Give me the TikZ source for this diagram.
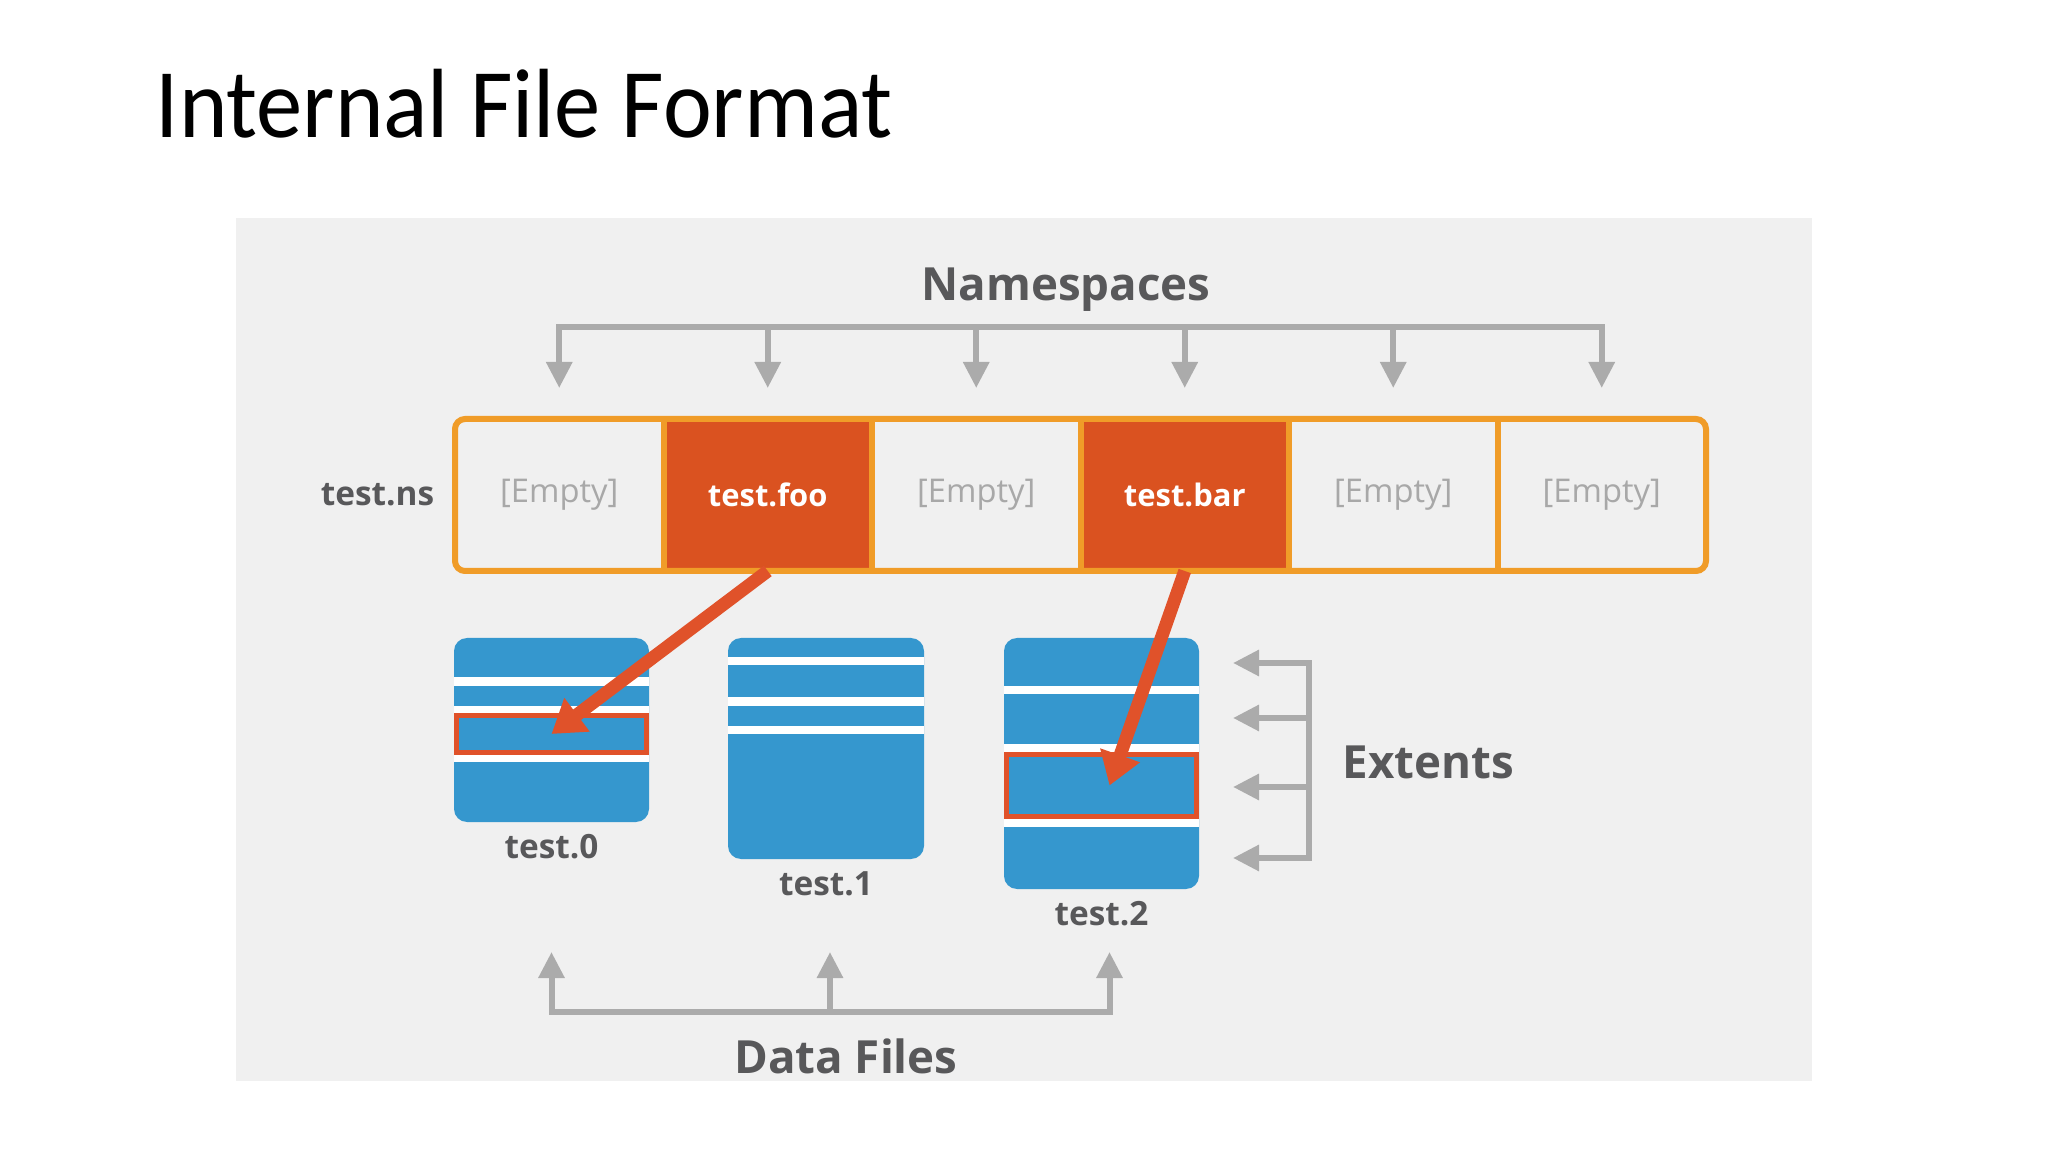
\documentclass[tikz,border=0pt]{standalone}
\usepackage{fontspec}
\usepackage{xcolor}
\usepackage{tikz}
\usetikzlibrary{arrows.meta, positioning, calc}

\newfontfamily\titlefont{Carlito}[FakeStretch=0.94]
\newfontfamily\diafont{Open Sans}

\definecolor{panelgray}{HTML}{F0F0F0}
\definecolor{nsorange}{HTML}{F09C28}
\definecolor{nsred}{HTML}{DA5220}
\definecolor{ptrred}{HTML}{E0522A}
\definecolor{fileblue}{HTML}{3597CE}
\definecolor{arrowgray}{HTML}{ABABAB}
\definecolor{textdark}{HTML}{58585A}
\definecolor{emptygray}{HTML}{A8A8A8}

\begin{document}
\begin{tikzpicture}[
    title/.style={font=\titlefont\fontsize{28}{32}\selectfont, text=black, inner sep=0pt},
    header/.style={font=\diafont\bfseries\fontsize{13}{16}\selectfont, text=textdark, inner sep=0pt},
    flabel/.style={font=\diafont\bfseries\fontsize{9.5}{11}\selectfont, text=textdark, inner sep=0pt},
    nscell/.style={rectangle, minimum width=2.085cm, minimum height=1.52cm, inner sep=0pt, outer sep=0pt, font=\diafont\fontsize{9.3}{11}\selectfont, text=emptygray},
    nsused/.style={nscell, fill=nsred, text=white, font=\diafont\bfseries\fontsize{8.8}{11}\selectfont},
    nsline/.style={draw=nsorange, line width=0.06cm},
    dfile/.style={rectangle, rounded corners=0.13cm, fill=fileblue, inner sep=0pt, outer sep=0pt},
    band/.style={rectangle, draw=ptrred, line width=0.05cm, inner sep=0pt, outer sep=0pt},
    garr/.style={-{Triangle[width=0.25cm,length=0.26cm]}, line width=0.06cm, draw=arrowgray},
    gbrk/.style={garr, {Triangle[width=0.25cm,length=0.26cm]}-{Triangle[width=0.25cm,length=0.26cm]}},
    redarr/.style={-{Triangle[width=0.40cm,length=0.32cm]}, line width=0.13cm, draw=ptrred},
]
    \useasboundingbox (0,0) rectangle (20.48,-11.52);

    % Background
    \fill[white] (0,0) rectangle (20.48,-11.52);
    \fill[panelgray] (2.36,-2.18) rectangle (18.12,-10.81);

    % Title
    \node[title, anchor=base west] (title) at (1.55,-1.38) {Internal File Format};

    % Namespace row
    \node[nscell] (ns1) at (5.5925,-4.95) {[Empty]};
    \node[nsused, right=0pt of ns1] (ns2) {test.foo};
    \node[nscell, right=0pt of ns2] (ns3) {[Empty]};
    \node[nsused, right=0pt of ns3] (ns4) {test.bar};
    \node[nscell, right=0pt of ns4] (ns5) {[Empty]};
    \node[nscell, right=0pt of ns5] (ns6) {[Empty]};
    \node[flabel, left=0.2cm of ns1] (nsname) {test.ns};

    \draw[nsline] (ns1.north east) -- (ns1.south east);
    \draw[nsline] (ns2.north east) -- (ns2.south east);
    \draw[nsline] (ns3.north east) -- (ns3.south east);
    \draw[nsline] (ns4.north east) -- (ns4.south east);
    \draw[nsline] (ns5.north east) -- (ns5.south east);
    \draw[nsline, rounded corners=0.1cm] (ns1.north west) rectangle (ns6.south east);

    % Namespaces bracket
    \node[header] (nshead) at (10.66,-2.90) {Namespaces};
    \coordinate (nsbar) at (0,-3.27);
    \draw[gbrk] ([yshift=0.31cm]ns1.north) -- (nsbar -| ns1.north) -- (nsbar -| ns6.north) -- ([yshift=0.31cm]ns6.north);
    \draw[garr] (nsbar -| ns2.north) -- ([yshift=0.31cm]ns2.north);
    \draw[garr] (nsbar -| ns3.north) -- ([yshift=0.31cm]ns3.north);
    \draw[garr] (nsbar -| ns4.north) -- ([yshift=0.31cm]ns4.north);
    \draw[garr] (nsbar -| ns5.north) -- ([yshift=0.31cm]ns5.north);

    % Data files
    \node[dfile, minimum width=1.95cm, minimum height=1.84cm] (f0) at (5.515,-7.30) {};
    \node[dfile, minimum width=1.96cm, minimum height=2.21cm, anchor=north west] (f1) at ([xshift=0.79cm]f0.north east) {};
    \node[dfile, minimum width=1.95cm, minimum height=2.51cm, anchor=north west] (f2) at ([xshift=0.80cm]f1.north east) {};

    % Extent gaps
    \fill[white] ($(f0.north west)+(0,-0.39)$) rectangle ($(f0.north east)+(0,-0.48)$);
    \fill[white] ($(f0.north west)+(0,-0.68)$) rectangle ($(f0.north east)+(0,-0.75)$);
    \fill[white] ($(f0.north west)+(0,-1.17)$) rectangle ($(f0.north east)+(0,-1.24)$);
    \fill[white] ($(f1.north west)+(0,-0.19)$) rectangle ($(f1.north east)+(0,-0.27)$);
    \fill[white] ($(f1.north west)+(0,-0.59)$) rectangle ($(f1.north east)+(0,-0.68)$);
    \fill[white] ($(f1.north west)+(0,-0.88)$) rectangle ($(f1.north east)+(0,-0.96)$);
    \fill[white] ($(f2.north west)+(0,-0.48)$) rectangle ($(f2.north east)+(0,-0.56)$);
    \fill[white] ($(f2.north west)+(0,-1.06)$) rectangle ($(f2.north east)+(0,-1.14)$);
    \fill[white] ($(f2.north west)+(0,-1.81)$) rectangle ($(f2.north east)+(0,-1.89)$);

    % Referenced extents
    \node[band, minimum width=1.90cm, minimum height=0.37cm, anchor=north] (x0) at ([yshift=-0.775cm]f0.north) {};
    \node[band, minimum width=1.90cm, minimum height=0.62cm, anchor=north] (x2) at ([yshift=-1.165cm]f2.north) {};

    % File names
    \node[flabel, below=0.12cm of f0] (l0) {test.0};
    \node[flabel, below=0.12cm of f1] (l1) {test.1};
    \node[flabel, below=0.12cm of f2] (l2) {test.2};

    % Pointers from namespaces to extents
    \draw[redarr] (ns2.south) -- (x0.center);
    \draw[redarr] (ns4.south) -- ([xshift=0.08cm]x2.center);

    % Extents bracket
    \coordinate (et1) at ([xshift=0.34cm, yshift=-0.25cm]f2.north east);
    \coordinate (et2) at ([xshift=0.34cm, yshift=-0.80cm]f2.north east);
    \coordinate (et3) at ([xshift=0.34cm, yshift=-1.49cm]f2.north east);
    \coordinate (et4) at ([xshift=0.34cm, yshift=-2.20cm]f2.north east);
    \coordinate (eb1) at ([xshift=0.76cm]et1);
    \coordinate (eb2) at ([xshift=0.76cm]et2);
    \coordinate (eb3) at ([xshift=0.76cm]et3);
    \coordinate (eb4) at ([xshift=0.76cm]et4);
    \draw[gbrk] (et1) -- (eb1) -- (eb4) -- (et4);
    \draw[garr] (eb2) -- (et2);
    \draw[garr] (eb3) -- (et3);
    \node[header, anchor=west] (exthead) at (13.42,-7.62) {Extents};

    % Data files bracket
    \coordinate (dtip) at (0,-9.52);
    \coordinate (dbar) at (0,-10.12);
    \coordinate (d1x) at ([xshift=0.04cm]f1.center);
    \coordinate (d2x) at ([xshift=0.08cm]f2.center);
    \draw[gbrk] (dtip -| f0.center) -- (dbar -| f0.center) -- (dbar -| d2x) -- (dtip -| d2x);
    \draw[garr] (dbar -| d1x) -- (dtip -| d1x);
    \node[header] (dhead) at (8.46,-10.56) {Data Files};

\end{tikzpicture}
\end{document}
